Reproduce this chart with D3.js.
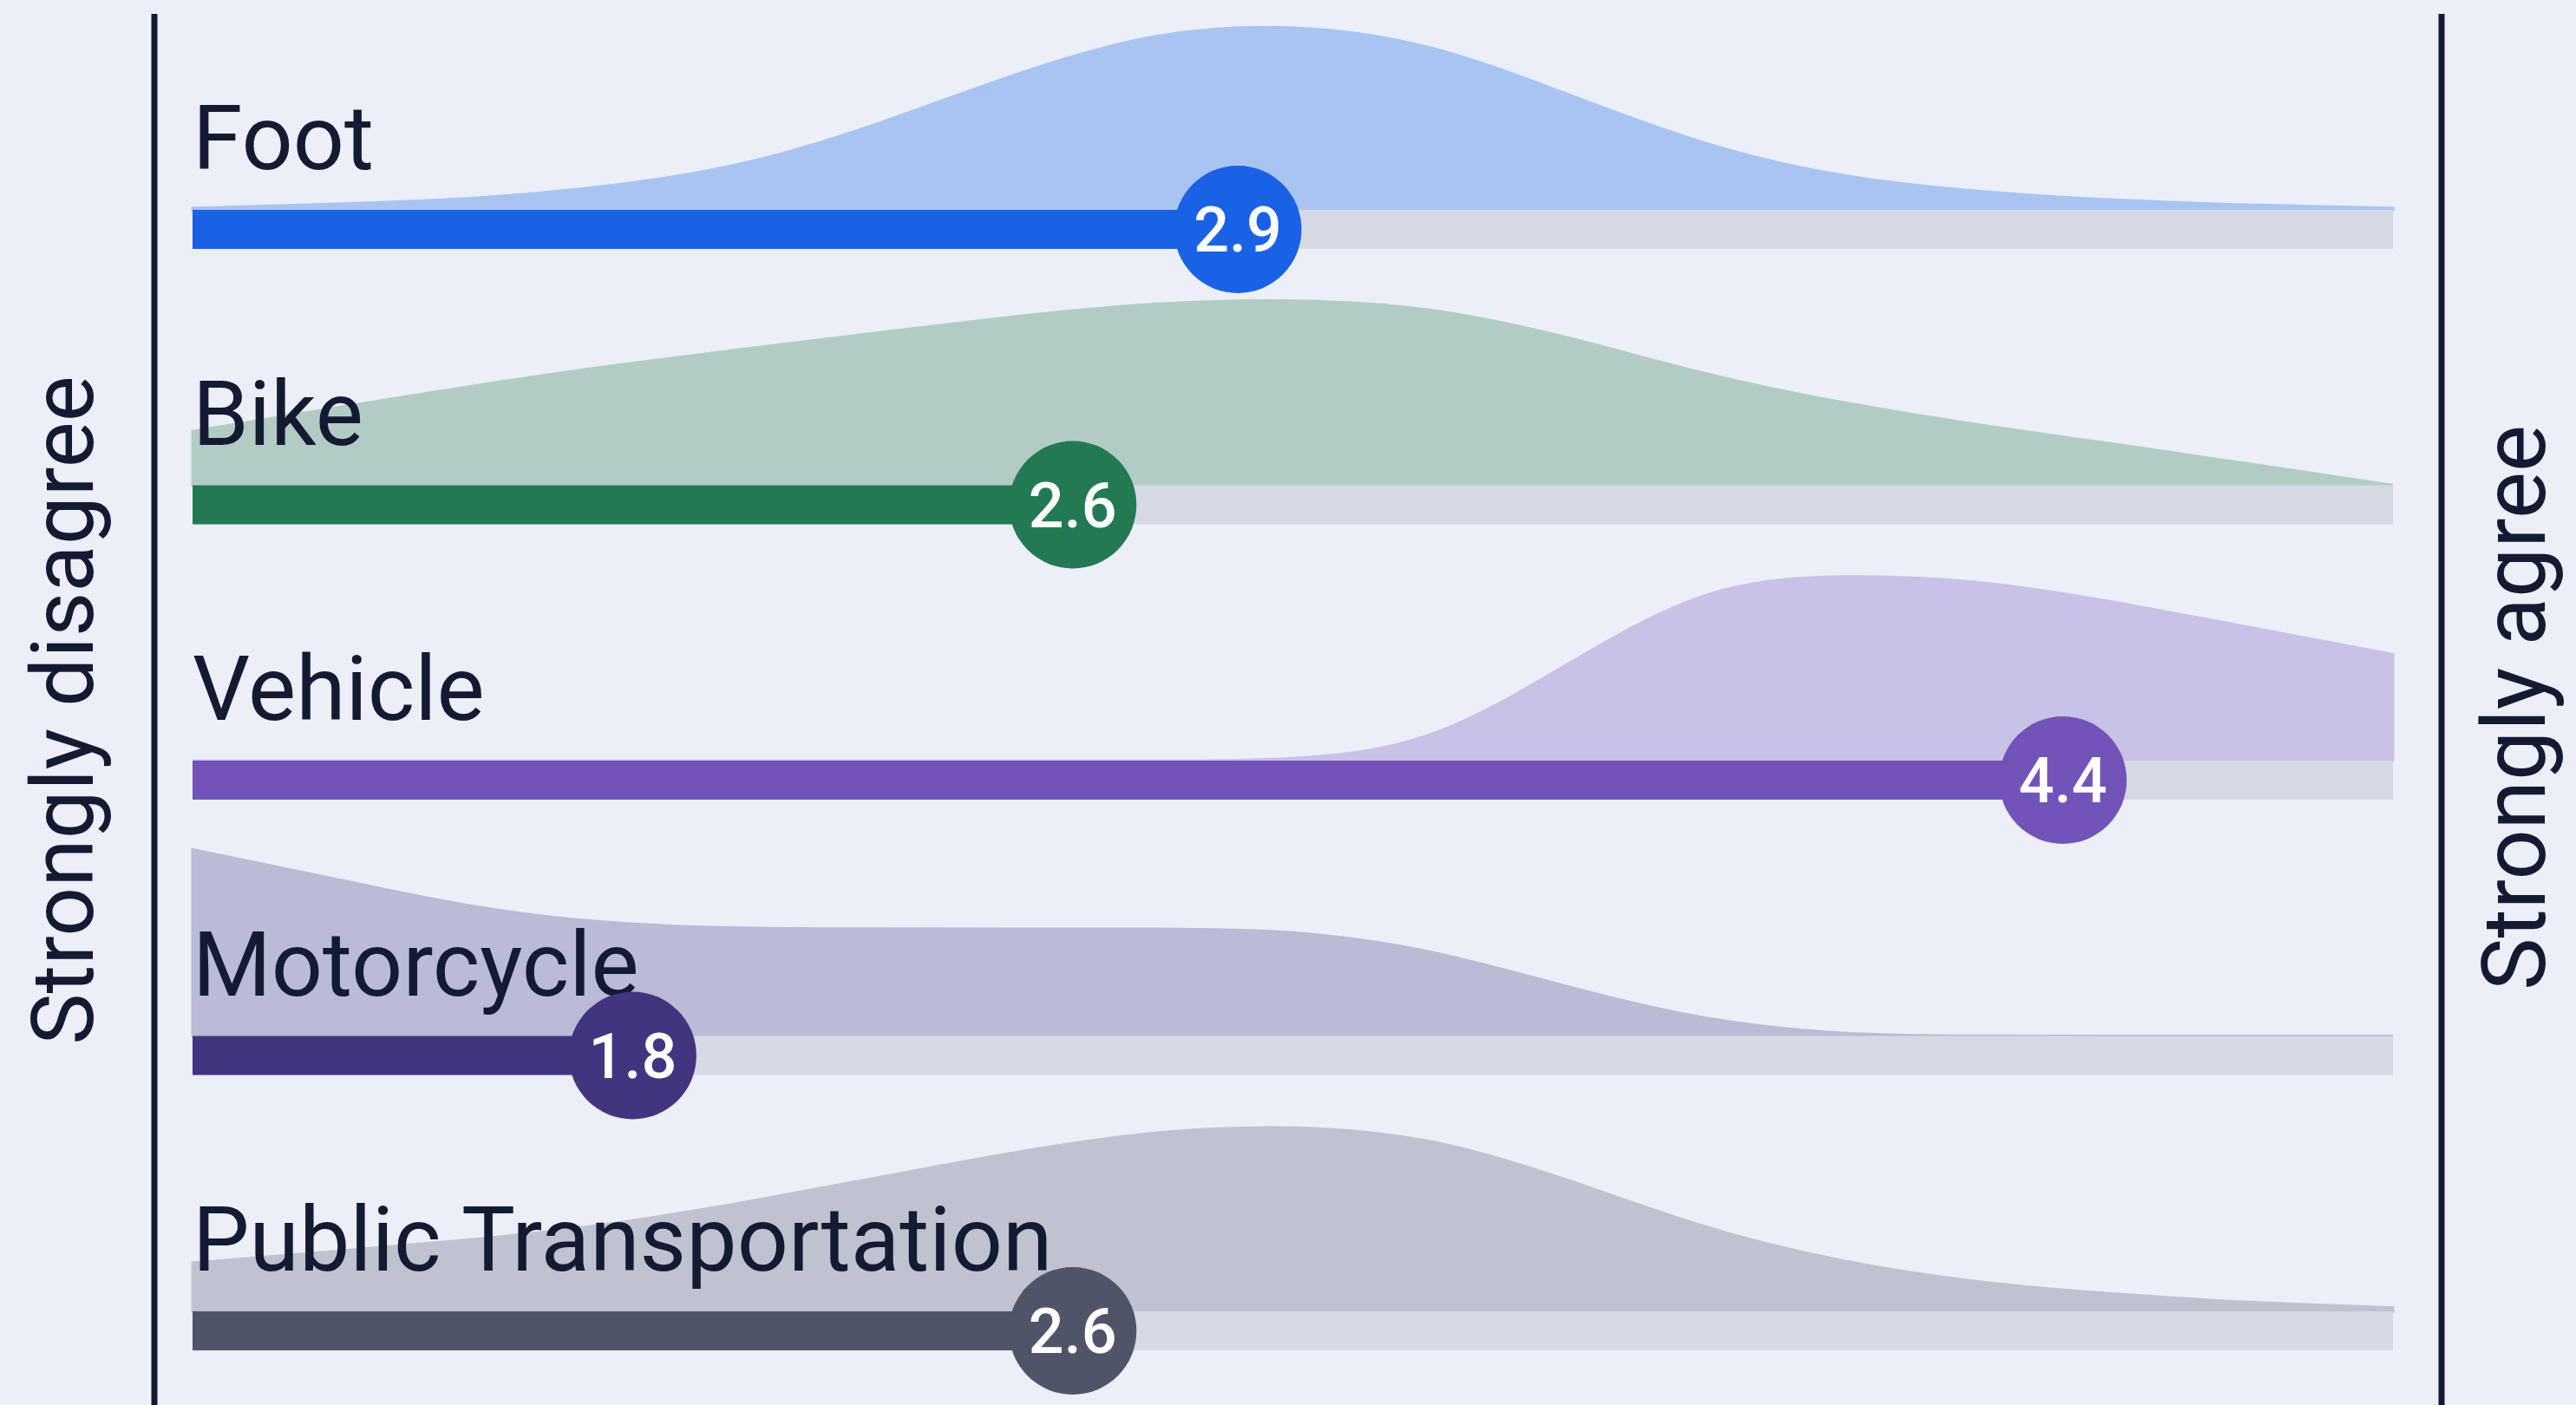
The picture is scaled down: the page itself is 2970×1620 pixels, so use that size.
<!DOCTYPE html>
<html>
<head>
<meta charset="utf-8">
<script src="https://cdn.jsdelivr.net/npm/d3@7/dist/d3.min.js"></script>
<style>
  html, body { margin: 0; padding: 0; background: #ECEFF7; }
  svg { display: block; }
</style>
</head>
<body>
<svg id="chart" width="2970" height="1620"></svg>
<script>
// ---------- data ----------
const categories = ["Foot", "Bike", "Vehicle", "Motorcycle", "Public Transportation"];
const means = [2.9, 2.6, 4.4, 1.8, 2.6];
const meanLabels = ["2.9", "2.6", "4.4", "1.8", "2.6"];
const scaleEnds = ["Strongly disagree", "Strongly agree"];
// density sample positions on the 1–5 agreement scale
const grid = [1, 1.25, 1.5, 1.75, 2, 2.25, 2.5, 2.75, 3, 3.25, 3.5, 3.75, 4, 4.25, 4.5, 4.75, 5];
// relative density (peak = 1)
const densFoot       = [0.01, 0.03, 0.055, 0.12, 0.23, 0.46, 0.74, 0.96, 1.0, 0.9, 0.62, 0.34, 0.17, 0.095, 0.05, 0.025, 0.01];
const densBike       = [0.29, 0.41, 0.53, 0.64, 0.73, 0.82, 0.91, 0.98, 1.0, 0.96, 0.8, 0.59, 0.44, 0.32, 0.22, 0.11, 0.0];
const densVehicle    = [0, 0, 0, 0, 0, 0, 0, 0, 0, 0.08, 0.52, 0.95, 1.0, 0.97, 0.85, 0.71, 0.57];
const densMotorcycle = [1.0, 0.85, 0.69, 0.6, 0.577, 0.575, 0.575, 0.575, 0.57, 0.47, 0.26, 0.08, 0.005, 0, 0, 0, 0];
const densPublic     = [0.26, 0.32, 0.38, 0.46, 0.58, 0.72, 0.86, 0.97, 1.0, 0.94, 0.71, 0.44, 0.26, 0.15, 0.09, 0.045, 0.02];
const densities = [densFoot, densBike, densVehicle, densMotorcycle, densPublic];

const barColors  = ["#1A62E5", "#237A52", "#7153BA", "#41357F", "#4F5469"];
const areaColors = ["#AAC4F2", "#B2CCC5", "#C7C2E6", "#BABBD4", "#BFC3CF"];

// ---------- layout ----------
const W = 2970, H = 1620;
const ink = "#151A33";
const trackH = 45, peakH = 215, dotR = 73.5;
const svg = d3.select("#chart");
svg.append("rect").attr("width", W).attr("height", H).attr("fill", "#ECEFF7");

const x = d3.scaleLinear().domain([1, 5]).range([222, 2759]);
const yBase = d3.scalePoint().domain(categories).range([242, 1512]);
const h = d3.scaleLinear().domain([0, 1]).range([0, peakH]);

const font = "Roboto, 'Noto Sans', sans-serif";

// axis end lines
svg.append("line").attr("x1", 178).attr("x2", 178).attr("y1", 16).attr("y2", H)
  .attr("stroke", ink).attr("stroke-width", 7);
svg.append("line").attr("x1", 2815).attr("x2", 2815).attr("y1", 16).attr("y2", H)
  .attr("stroke", ink).attr("stroke-width", 7);

// end labels
svg.append("text").attr("transform", "translate(107,819) rotate(-90)")
  .attr("text-anchor", "middle").attr("font-family", font).attr("font-size", 100)
  .attr("fill", ink).text(scaleEnds[0]);
svg.append("text").attr("transform", "translate(2934,816) rotate(-90)")
  .attr("text-anchor", "middle").attr("font-family", font).attr("font-size", 102)
  .attr("fill", ink).text(scaleEnds[1]);

const rows = categories.map((c, i) => ({
  cat: c, mean: means[i], label: meanLabels[i],
  dens: grid.map((g, j) => ({ v: g, d: densities[i][j] })),
  bar: barColors[i], area: areaColors[i]
}));

const g = svg.selectAll("g.row").data(rows).join("g").attr("class", "row");

// density ridges
g.append("path")
  .attr("d", r => d3.area()
    .x(p => x(p.v))
    .y0(yBase(r.cat))
    .y1(p => yBase(r.cat) - h(p.d))
    .curve(d3.curveBasis)(r.dens))
  .attr("fill", r => r.area)
  .attr("stroke", r => r.area)
  .attr("stroke-width", 3);

// background track
g.append("rect")
  .attr("x", x(1)).attr("width", x(5) - x(1))
  .attr("y", r => yBase(r.cat)).attr("height", trackH)
  .attr("fill", "#D5D9E3");

// mean bar
g.append("rect")
  .attr("x", x(1)).attr("width", r => x(r.mean) - x(1))
  .attr("y", r => yBase(r.cat)).attr("height", trackH)
  .attr("fill", r => r.bar);

// category label
g.append("text")
  .attr("x", x(1)).attr("y", r => yBase(r.cat) - 47)
  .attr("font-family", font).attr("font-size", 104)
  .attr("fill", ink).text(r => r.cat);

// mean dot
g.append("circle")
  .attr("cx", r => x(r.mean)).attr("cy", r => yBase(r.cat) + trackH / 2)
  .attr("r", dotR).attr("fill", r => r.bar);
g.append("text")
  .attr("x", r => x(r.mean)).attr("y", r => yBase(r.cat) + trackH / 2)
  .attr("dy", "0.36em").attr("text-anchor", "middle")
  .attr("font-family", font).attr("font-size", 72).attr("font-weight", 500)
  .attr("fill", "#FFFFFF").text(r => r.label);
</script>
</body>
</html>
